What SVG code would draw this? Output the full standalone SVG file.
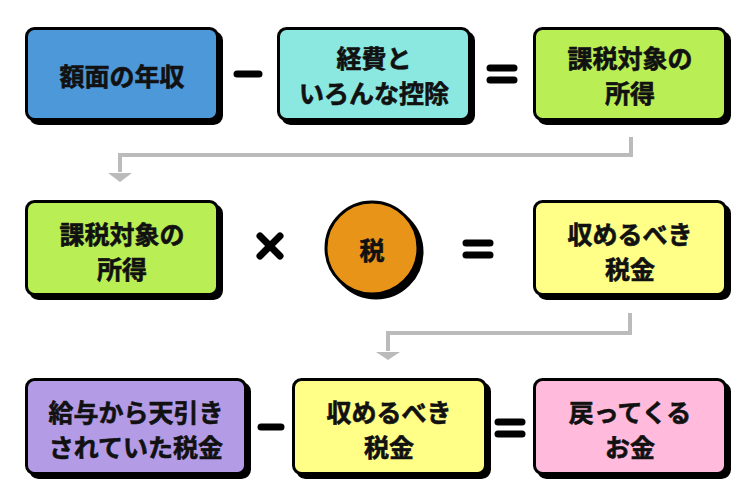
<svg xmlns="http://www.w3.org/2000/svg" width="750" height="503" viewBox="0 0 750 503">
<style>
.sh{fill:#000;stroke:#000;stroke-width:3}
.bx{stroke:#000;stroke-width:3}
.t{font-family:"Noto Sans CJK JP","Noto Sans",sans-serif;font-weight:700;font-size:25px;fill:#111;stroke:#111;stroke-width:0.6;text-anchor:middle;dominant-baseline:central}
.op{stroke:#000;stroke-width:7;stroke-linecap:round;fill:none}
.cn{stroke:#bbbbbb;stroke-width:4;fill:none}
.ah{fill:#bbbbbb}
</style>
<rect width="750" height="503" fill="#fff"/>
<g id="connectors">
<path class="cn" d="M631,137 V155 H120 V172"/>
<path class="ah" d="M108,173 L132,173 L120,182 Z"/>
<path class="cn" d="M630,313 V333 H388 V351"/>
<path class="ah" d="M376,352 L400,352 L388,360 Z"/>
</g>
<g id="operators">
<line class="op" x1="237" y1="74" x2="259" y2="74"/>
<line class="op" x1="490" y1="68" x2="514" y2="68"/>
<line class="op" x1="490" y1="80" x2="514" y2="80"/>
<line class="op" x1="260" y1="236" x2="280" y2="256"/>
<line class="op" x1="280" y1="236" x2="260" y2="256"/>
<line class="op" x1="466" y1="243" x2="490" y2="243"/>
<line class="op" x1="466" y1="255" x2="490" y2="255"/>
<line class="op" x1="261" y1="427" x2="281" y2="427"/>
<line class="op" x1="498" y1="422" x2="522" y2="422"/>
<line class="op" x1="498" y1="434" x2="522" y2="434"/>
</g>
<g id="n1">
<rect class="sh" x="30.5" y="32.5" width="191" height="91" rx="8"/>
<rect class="bx" x="26.5" y="28.5" width="191" height="91" rx="8" fill="#4d98d8"/>
<text class="t" x="122" y="75">額面の年収</text>
</g>
<g id="n2">
<rect class="sh" x="282.5" y="32.5" width="191" height="91" rx="8"/>
<rect class="bx" x="278.5" y="28.5" width="191" height="91" rx="8" fill="#8ae8e0"/>
<text class="t" x="374" y="57">経費と</text>
<text class="t" x="374" y="92">いろんな控除</text>
</g>
<g id="n3">
<rect class="sh" x="538.5" y="32.5" width="191" height="91" rx="8"/>
<rect class="bx" x="534.5" y="28.5" width="191" height="91" rx="8" fill="#b9ee55"/>
<text class="t" x="630" y="57">課税対象の</text>
<text class="t" x="630" y="92">所得</text>
</g>
<g id="n4">
<rect class="sh" x="30.5" y="205.5" width="191" height="93" rx="8"/>
<rect class="bx" x="26.5" y="201.5" width="191" height="93" rx="8" fill="#b9ee55"/>
<text class="t" x="122" y="233">課税対象の</text>
<text class="t" x="122" y="268">所得</text>
</g>
<g id="n5">
<circle class="sh" cx="376" cy="252" r="46"/>
<circle class="bx" cx="372" cy="248" r="46" fill="#e89418"/>
<text class="t" x="372" y="249">税</text>
</g>
<g id="n6">
<rect class="sh" x="538.5" y="205.5" width="191" height="93" rx="8"/>
<rect class="bx" x="534.5" y="201.5" width="191" height="93" rx="8" fill="#ffff88"/>
<text class="t" x="630" y="233">収めるべき</text>
<text class="t" x="630" y="268">税金</text>
</g>
<g id="n7">
<rect class="sh" x="30.5" y="383.5" width="219" height="94" rx="8"/>
<rect class="bx" x="26.5" y="379.5" width="219" height="94" rx="8" fill="#b39be6"/>
<text class="t" x="136" y="411">給与から天引き</text>
<text class="t" x="136" y="446">されていた税金</text>
</g>
<g id="n8">
<rect class="sh" x="297.5" y="383.5" width="192" height="94" rx="8"/>
<rect class="bx" x="293.5" y="379.5" width="192" height="94" rx="8" fill="#ffff88"/>
<text class="t" x="389" y="411">収めるべき</text>
<text class="t" x="389" y="446">税金</text>
</g>
<g id="n9">
<rect class="sh" x="538.5" y="383.5" width="191" height="94" rx="8"/>
<rect class="bx" x="534.5" y="379.5" width="191" height="94" rx="8" fill="#ffbadc"/>
<text class="t" x="630" y="411">戻ってくる</text>
<text class="t" x="630" y="446">お金</text>
</g>
</svg>
